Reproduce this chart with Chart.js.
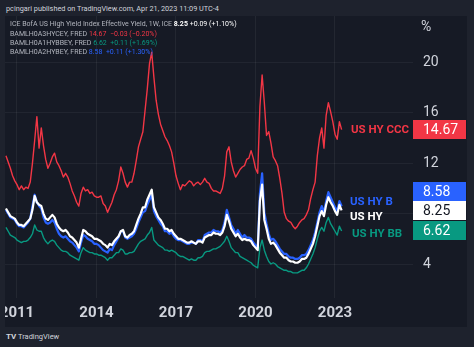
<!DOCTYPE html>
<html><head><meta charset="utf-8">
<script src="https://cdn.jsdelivr.net/npm/chart.js@4"></script>
<style>
html,body{margin:0;padding:0;width:474px;height:347px;background:#1e222d;overflow:hidden;font-family:Roboto,"Noto Sans",sans-serif;}
#panel{position:absolute;left:5px;top:16px;width:462px;height:311px;background:#161a25;overflow:hidden;}
#c{position:absolute;left:0;top:0;}
.t{position:absolute;white-space:nowrap;}
.hdr{left:6px;top:4px;font-size:7.3px;color:#d1d4dc;line-height:10px;}
.lg{left:10px;font-size:7px;color:#b2b5be;line-height:9px;}
.lbl{font-size:11.5px;font-weight:bold;line-height:16px;}
.box{position:absolute;left:413px;width:53px;height:19px;line-height:19px;font-size:14px;padding-left:10px;box-sizing:border-box;color:#fff;}
</style>
</head><body>
<div class="t hdr">pcingari published on TradingView.com, Apr 21, 2023 11:09 UTC-4</div>
<div id="panel"><canvas id="c" width="462" height="311"></canvas></div>
<div class="t lg" style="top:20px">ICE BofA US High Yield Index Effective Yield, 1W, ICE <span style="color:#fff;font-weight:bold">8.25</span> <span style="color:#fff">+0.09 (+1.10%)</span></div>
<div class="t lg" style="top:29.5px">BAMLH0A3HYCEY, FRED <span style="color:#f23645">14.67 &nbsp;−0.03 (−0.20%)</span></div>
<div class="t lg" style="top:39px">BAMLH0A1HYBBEY, FRED <span style="color:#089981">6.62 &nbsp;+0.11 (+1.69%)</span></div>
<div class="t lg" style="top:48px">BAMLH0A2HYBEY, FRED <span style="color:#2962ff">8.58 &nbsp;+0.11 (+1.30%)</span></div>
<div class="t" style="left:421px;top:18px;font-size:14px;color:#d1d4dc;line-height:16px">%</div>
<div class="t lbl" style="right:65px;top:121px;color:#f23645">US HY CCC</div>
<div class="t lbl" style="left:350px;top:193px;color:#2962ff">US HY B</div>
<div class="t lbl" style="left:350px;top:208px;color:#ffffff">US HY</div>
<div class="t lbl" style="left:352px;top:225px;color:#089981">US HY BB</div>
<div id="boxes"></div>
<div class="t" style="left:6px;top:332px;font-size:7.5px;color:#d1d4dc;line-height:10px"><b style="font-size:8px">TV</b> TradingView</div>
<script>
// Monthly series, Aug 2010 .. Apr 2023 (effective yield, %)
const startYear = 2010, startMonth = 8;
const ccc = [12.6,12.1,11.6,11.0,10.6,10.3,9.9,10.2,9.9,10.1,10.0,10.5,12.0,13.8,15.7,13.2,14.8,13.4,12.3,11.6,
12.0,12.5,12.8,12.1,11.8,11.4,10.9,11.2,10.9,10.4,9.8,9.4,8.9,8.6,9.6,10.1,9.8,9.9,9.6,9.7,
9.4,9.3,9.3,9.4,8.8,8.6,8.1,8.5,8.9,9.5,9.9,10.6,11.7,11.2,10.5,10.1,10.5,10.5,11.2,12.2,
13.3,13.9,14.5,16.2,17.9,19.9,20.8,18.8,17.0,15.9,15.1,14.6,14.1,13.8,13.4,12.9,12.0,11.0,10.4,9.9,
10.3,10.2,10.4,10.6,10.5,10.2,10.4,10.5,10.3,10.5,10.8,10.5,10.4,10.0,9.8,9.8,9.7,9.6,10.0,11.0,
12.9,13.3,12.1,11.4,10.9,11.2,11.5,11.7,11.8,12.3,12.4,13.0,12.4,11.6,11.2,16.5,19.0,16.8,14.2,14.5,
13.6,12.5,12.2,11.8,10.8,9.6,8.1,7.6,7.4,7.3,7.0,6.8,7.0,7.3,7.5,7.6,7.9,8.3,9.2,9.9,
10.5,12.6,14.0,14.8,13.2,15.8,16.8,16.1,15.3,14.3,13.9,15.3,14.67];
const hy = [8.4,8.1,7.8,7.7,7.6,7.3,7.1,7.1,7.0,7.2,7.4,7.6,8.3,9.4,8.9,8.7,8.6,8.0,7.6,7.5,
7.7,7.9,7.7,7.2,6.9,6.7,6.6,6.7,6.5,6.2,6.1,5.9,5.7,5.3,6.0,6.7,6.6,6.4,6.3,6.2,
6.0,6.0,5.9,5.8,5.6,5.5,5.3,5.6,5.5,5.8,6.0,6.2,6.6,6.7,6.2,6.1,6.3,6.4,6.6,7.1,
7.6,8.0,8.5,8.5,9.1,9.5,9.9,8.5,8.1,7.7,7.5,7.2,6.8,6.8,6.6,6.7,6.4,6.2,6.0,6.0,
5.9,5.8,5.7,5.7,5.8,5.7,5.6,5.8,5.8,5.7,6.1,6.2,6.3,6.3,6.5,6.4,6.4,6.3,6.5,7.0,
7.9,7.4,6.8,6.5,6.2,6.4,6.1,5.9,6.0,5.9,5.9,5.8,5.5,5.3,5.1,9.0,10.3,7.5,6.8,6.0,
5.6,5.7,5.5,5.2,4.9,4.7,4.5,4.5,4.3,4.2,4.2,4.1,4.1,4.2,4.4,4.4,4.5,4.8,5.2,5.6,
6.2,7.0,7.8,8.2,7.8,8.7,9.3,8.9,8.6,8.2,7.9,8.7,8.25];
const bb = [6.9,6.6,6.3,6.2,6.1,5.9,5.8,5.7,5.8,5.8,5.9,6.1,6.4,7.1,6.7,6.6,6.6,6.1,5.8,5.6,
5.8,5.9,5.8,5.5,5.3,5.1,5.0,5.0,4.9,4.7,4.6,4.5,4.4,4.3,4.9,5.3,5.1,5.0,4.9,4.9,
4.8,4.8,4.7,4.7,4.6,4.5,4.3,4.5,4.5,4.7,4.9,4.9,5.2,5.1,4.8,4.8,4.9,4.9,5.0,5.3,
5.6,5.8,5.9,6.0,6.3,6.5,6.9,5.9,5.7,5.5,5.4,5.3,5.1,5.1,5.0,5.1,5.0,4.9,4.7,4.6,
4.6,4.5,4.4,4.3,4.4,4.3,4.3,4.5,4.5,4.6,4.9,5.0,5.0,5.1,5.2,5.2,5.3,5.4,5.6,5.8,
6.2,5.8,5.3,5.1,4.9,4.9,4.6,4.5,4.4,4.3,4.2,4.1,3.9,3.8,3.7,5.3,5.9,5.1,4.6,4.2,
4.0,4.1,4.0,3.8,3.7,3.6,3.5,3.5,3.4,3.4,3.3,3.3,3.3,3.4,3.5,3.5,3.7,4.0,4.4,4.8,
5.3,6.0,6.6,6.9,6.6,7.3,7.7,7.2,6.9,6.6,6.3,7.0,6.62];
const b = [8.3,8.0,7.7,7.6,7.5,7.2,7.0,7.0,6.9,7.1,7.3,7.6,8.6,9.5,8.9,8.6,8.4,7.7,7.3,7.2,
7.3,7.5,7.3,6.8,6.4,6.2,6.1,6.2,6.0,5.8,5.7,5.5,5.3,5.0,5.7,6.3,6.2,6.0,5.9,5.8,
5.6,5.6,5.5,5.3,5.1,5.0,4.9,5.2,5.1,5.5,5.8,6.1,6.6,6.6,6.1,6.0,6.1,6.2,6.4,6.8,
7.3,7.7,8.1,8.2,8.7,9.1,9.5,8.2,7.8,7.5,7.2,7.0,6.6,6.6,6.4,6.5,6.2,6.0,5.9,5.9,
5.8,5.7,5.6,5.6,5.7,5.7,5.6,5.9,5.9,5.8,6.3,6.4,6.5,6.5,6.7,6.6,6.6,6.5,6.7,7.3,
8.3,7.7,7.1,6.8,6.4,6.7,6.4,6.1,6.3,6.1,6.1,6.0,5.7,5.5,5.3,9.6,11.2,8.1,7.2,6.4,
5.9,6.0,5.8,5.5,5.2,5.0,4.8,4.8,4.6,4.5,4.5,4.4,4.4,4.5,4.7,4.7,4.8,5.1,5.5,5.9,
6.5,7.3,8.1,8.6,8.1,9.0,9.7,9.3,8.9,8.5,8.2,9.0,8.58];
const xTickValues = [2011, 2014, 2017, 2020, 2023];
const xTickLabels = ['2011', '2014', '2017', '2020', '2023'];
const yTickValues = [4, 8, 12, 16, 20];

const months = ccc.map((_, i) => {
  const m = startMonth - 1 + i;
  return (startYear + Math.floor(m / 12)) + '-' + String(m % 12 + 1).padStart(2, '0');
});
const monthToYear = s => { const [y, m] = s.split('-').map(Number); return y + (m - 1) / 12; };
const toPts = arr => arr.map((v, i) => ({ x: monthToYear(months[i]), y: v }));

const chart = new Chart(document.getElementById('c'), {
  type: 'line',
  data: { datasets: [
    { label: 'US HY', data: toPts(hy), borderColor: '#ffffff', borderWidth: 2.2 },
    { label: 'US HY B', data: toPts(b), borderColor: '#2962ff', borderWidth: 2.2 },
    { label: 'US HY BB', data: toPts(bb), borderColor: '#089981', borderWidth: 1.4 },
    { label: 'US HY CCC', data: toPts(ccc), borderColor: '#f23645', borderWidth: 1.4 }
  ]},
  options: {
    responsive: false, animation: false,
    layout: { padding: 0 },
    elements: { point: { radius: 0 }, line: { tension: 0, borderJoinStyle: 'round' } },
    plugins: { legend: { display: false }, tooltip: { enabled: false } },
    scales: {
      x: {
        type: 'linear', min: 2010.5472, max: 2025.9434,
        afterBuildTicks: s => { s.ticks = xTickValues.map(v => ({ value: v })); },
        afterFit: s => { s.height = 29; s.paddingLeft = 0; s.paddingRight = 0; },
        grid: { color: 'rgba(255,255,255,0.06)', drawTicks: false },
        border: { display: false },
        ticks: { color: '#d1d4dc', font: { family: 'Roboto', size: 15, weight: 'bold' }, padding: 6, maxRotation: 0, autoSkip: false,
          callback: v => xTickLabels[xTickValues.indexOf(v)] }
      },
      y: {
        position: 'right', min: 1.302, max: 23.683,
        afterBuildTicks: s => { s.ticks = yTickValues.map(v => ({ value: v })); },
        afterFit: s => { s.width = 54; s.paddingTop = 0; s.paddingBottom = 0; },
        grid: { color: 'rgba(255,255,255,0.05)', drawTicks: false },
        border: { display: false },
        ticks: { color: '#d1d4dc', font: { family: 'Roboto', size: 14 }, padding: 10, callback: v => String(v) }
      }
    }
  }
});

// price boxes at the last value of each series
const ys = chart.scales.y;
const top0 = 16, h = 19;
const lastOf = a => a[a.length - 1];
const mainC = top0 + ys.getPixelForValue(lastOf(hy));
const mainTop = mainC - h / 2;
const boxes = [
  { v: lastOf(ccc), bg: '#f23645', fg: '#fff' },
  { v: lastOf(b), bg: '#2962ff', fg: '#fff' },
  { v: lastOf(hy), bg: '#ffffff', fg: '#131722', main: true },
  { v: lastOf(bb), bg: '#089981', fg: '#fff' }
];
const host = document.getElementById('boxes');
boxes.forEach(bx => {
  let t = top0 + ys.getPixelForValue(bx.v) - h / 2;
  if (!bx.main && t < mainTop + h && t + h > mainTop) {
    t = bx.v > lastOf(hy) ? mainTop - h : mainTop + h;
  }
  const d = document.createElement('div');
  d.className = 'box';
  d.style.top = t + 'px';
  d.style.background = bx.bg;
  d.style.color = bx.fg;
  d.textContent = bx.v.toFixed(2);
  host.appendChild(d);
});
</script>
</body></html>
